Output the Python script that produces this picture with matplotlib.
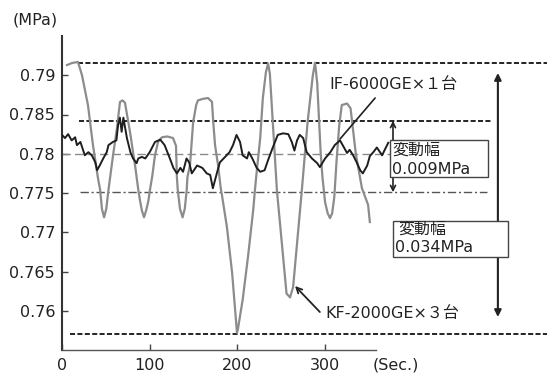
import matplotlib
matplotlib.use("Agg")
import matplotlib.pyplot as plt
from matplotlib.patches import Rectangle

plt.rcParams['font.family'] = ['DejaVu Sans', 'Noto Sans CJK JP']

# ---------------- data ----------------
kf_t = [5.7, 11.4, 18.2, 22.8, 29.6, 35.3, 41, 43.5, 45.5, 48, 50.5, 53, 58.2, 62.7, 66.1, 69, 71.8,
        77.5, 83.2, 87, 89, 91, 93.5, 96, 98.5, 100.3, 103, 106, 109.5, 114, 120, 126.6, 130, 131,
        132, 134.5, 137.5, 140, 142.2, 143, 146, 149.5, 153, 155, 161, 166.5, 171, 172.5, 174.5,
        178, 181, 182, 188, 194, 199.5, 200.5, 206, 212, 218, 220, 222, 226, 229, 232.5, 235, 237,
        245, 256, 260, 263.5, 273.5, 280, 286, 288.5, 291, 295, 297, 300, 303, 305.6, 308, 310.5,
        313, 316, 319, 325, 329, 335, 342, 349, 351]
kf_p = [0.7913, 0.79156, 0.79169, 0.7900, 0.7862, 0.7811, 0.7769, 0.7754, 0.7730, 0.7719, 0.7730,
        0.7754, 0.7798, 0.7833, 0.7866, 0.7868, 0.7865, 0.7828, 0.7786, 0.7754, 0.7740, 0.7728,
        0.7719, 0.7728, 0.7740, 0.7754, 0.7772, 0.7798, 0.7815, 0.7821, 0.7822, 0.7820, 0.7810,
        0.7770, 0.7754, 0.7730, 0.7719, 0.7730, 0.7754, 0.7770, 0.7786, 0.7840, 0.7862, 0.7868,
        0.7870, 0.7871, 0.7866, 0.7840, 0.7811, 0.7785, 0.7756, 0.7750, 0.7707, 0.7648, 0.7572,
        0.7576, 0.7614, 0.7668, 0.7728, 0.7754, 0.7777, 0.7820, 0.7871, 0.7904, 0.7915, 0.7902,
        0.7754, 0.7622, 0.7617, 0.7630, 0.7754, 0.7840, 0.7900, 0.7916, 0.7890, 0.7800, 0.7770,
        0.7738, 0.7724, 0.7718, 0.7724, 0.7745, 0.7790, 0.7835, 0.7862, 0.7864, 0.7858, 0.7800,
        0.7756, 0.7735, 0.7713]

if_t = [0, 3.4, 7, 11, 15, 17, 21, 26, 30, 34, 38, 40, 43, 47, 51, 53, 58, 62, 64, 66, 68, 70, 74,
        78, 81, 85, 87, 91, 95, 100, 106, 112, 117, 123, 127, 131, 135, 138, 142, 145, 148, 154,
        160, 165, 169, 172, 177, 180, 186, 191, 195, 199, 203, 206, 211, 213, 217, 222, 226, 231,
        235, 240, 246, 252, 258, 262, 265, 268, 271, 275, 279, 285, 291, 294, 300, 306, 311, 317,
        320, 325, 328, 332, 336, 340, 343, 348, 351, 355, 359, 365, 368, 372]
if_p = [0.7824, 0.7820, 0.7825, 0.7817, 0.7821, 0.7811, 0.7815, 0.7798, 0.7802, 0.7798, 0.7789,
        0.7779, 0.7785, 0.7794, 0.7802, 0.7811, 0.7815, 0.7817, 0.7837, 0.7846, 0.7828, 0.7846,
        0.7820, 0.7802, 0.7794, 0.7788, 0.7794, 0.7796, 0.7794, 0.7802, 0.7815, 0.7818, 0.7811,
        0.7794, 0.7782, 0.7775, 0.7782, 0.7777, 0.7794, 0.7789, 0.7775, 0.7785, 0.7782, 0.7775,
        0.7773, 0.7756, 0.7777, 0.7789, 0.7796, 0.7802, 0.7811, 0.7824, 0.7815, 0.7798, 0.7794,
        0.7802, 0.7794, 0.7782, 0.7777, 0.7779, 0.7792, 0.7807, 0.7824, 0.7826, 0.7825, 0.7815,
        0.7804, 0.7817, 0.7824, 0.7820, 0.7802, 0.7794, 0.7788, 0.7783, 0.7794, 0.7802, 0.7811,
        0.7817, 0.7811, 0.7801, 0.7805, 0.7798, 0.7789, 0.7779, 0.7775, 0.7785, 0.7797, 0.7802,
        0.7808, 0.7798, 0.7805, 0.7814]

# reference levels: KF max, IF max, mean, IF min, KF min
level_kf_max = 0.7916
level_if_max = 0.7842
level_mean = 0.7800
level_if_min = 0.7751
level_kf_min = 0.7570

x_ticks = [0, 100, 200, 300]
x_ticklabels = ['0', '100', '200', '300']
y_ticks = [0.76, 0.765, 0.77, 0.775, 0.78, 0.785, 0.79]
y_ticklabels = ['0.76', '0.765', '0.77', '0.775', '0.78', '0.785', '0.79']

label_if = 'IF-6000GE×１台'
label_kf = 'KF-2000GE×３台'
box_title = '変動幅'
box_if_value = '0.009MPa'
box_kf_value = '0.034MPa'

# ---------------- figure ----------------
W, H = 547, 373
fig = plt.figure(figsize=(W / 100, H / 100), dpi=100)
ax = fig.add_axes([62 / W, 23 / H, 485 / W, 314 / H])
ax.set_xlim(0, 553)
ax.set_ylim(0.755, 0.795)

# curves
ax.plot(kf_t, kf_p, color='#8c8c8c', lw=1.6, zorder=3, solid_joinstyle='round')
ax.plot(if_t, if_p, color='#1e1e1e', lw=1.4, zorder=4, solid_joinstyle='round')

# reference lines
blk = '#222222'
ax.plot([18.2, 553], [level_kf_max] * 2, color=blk, lw=1.4, dashes=(2.6, 1.2), zorder=2)
ax.plot([19.4, 490], [level_if_max] * 2, color=blk, lw=1.4, dashes=(2.6, 1.2), zorder=2)
ax.plot([0, 374], [level_mean] * 2, color='#8a8a8a', lw=1.0, dashes=(6, 3), zorder=2)
ax.plot([20.5, 484.6], [level_if_min] * 2, color='#555555', lw=1.0, dashes=(6, 2, 1.5, 2), zorder=2)
ax.plot([9.1, 553], [level_kf_min] * 2, color=blk, lw=1.4, dashes=(2.6, 1.2), zorder=2)

# range arrows
ax.annotate('', xy=(377.4, level_if_max), xytext=(377.4, level_if_min),
            arrowprops=dict(arrowstyle='<->', lw=1.2, color=blk, shrinkA=0, shrinkB=0,
                            mutation_scale=9), zorder=5)
ax.annotate('', xy=(497, 0.79029), xytext=(497, 0.7592),
            arrowprops=dict(arrowstyle='<|-|>', lw=1.5, color=blk, shrinkA=0, shrinkB=0,
                            mutation_scale=10), zorder=5)

# boxes
ax.add_patch(Rectangle((374.0, 0.77704), 111.7, 0.78175 - 0.77704, facecolor='white',
                       edgecolor='#444444', lw=1.0, zorder=6))
ax.text(376.3, 0.78048, box_title, fontsize=11.5, va='center', ha='left', zorder=7, color='#222')
ax.text(376.3, 0.77793, box_if_value, fontsize=11.5, va='center', ha='left', zorder=7, color='#222')

ax.add_patch(Rectangle((377.4, 0.76685), 131.2, 0.77143 - 0.76685, facecolor='white',
                       edgecolor='#444444', lw=1.0, zorder=6))
ax.text(384.0, 0.77041, box_title, fontsize=11.5, va='center', ha='left', zorder=7, color='#222')
ax.text(380.0, 0.76812, box_kf_value, fontsize=11.5, va='center', ha='left', zorder=7, color='#222')

# series labels
ax.text(304.4, 0.78876, label_if, fontsize=11.5, va='center', ha='left', color='#222', zorder=7)
ax.annotate('', xy=(317, 0.78188), xytext=(357, 0.7871),
            arrowprops=dict(arrowstyle='-', lw=1.2, color=blk, shrinkA=0, shrinkB=0), zorder=7)
ax.text(300.0, 0.75959, label_kf, fontsize=11.5, va='center', ha='left', color='#222', zorder=7)
ax.annotate('', xy=(265.7, 0.76315), xytext=(294, 0.75984),
            arrowprops=dict(arrowstyle='->', lw=1.3, color=blk, shrinkA=0, shrinkB=0,
                            mutation_scale=10), zorder=7)

# axes styling
for s in ['top', 'right']:
    ax.spines[s].set_visible(False)
ax.spines['left'].set_color('#333333')
ax.spines['left'].set_linewidth(1.5)
ax.spines['bottom'].set_color('#555555')
ax.spines['bottom'].set_linewidth(1.0)
ax.spines['bottom'].set_bounds(0, 358)

ax.set_xticks(x_ticks)
ax.set_xticklabels(x_ticklabels)
ax.set_yticks(y_ticks)
ax.set_yticklabels(y_ticklabels)
ax.tick_params(axis='both', direction='in', length=4, width=1, colors='#444444',
               labelsize=11.5, labelcolor='#222222')
ax.tick_params(axis='y', pad=5)
ax.tick_params(axis='x', pad=6)
ax.patch.set_alpha(0)

fig.text(13 / W, 1 - 20 / H, '(MPa)', fontsize=11.5, va='center', ha='left', color='#222')
fig.text(373 / W, 1 - 365 / H, '(Sec.)', fontsize=11.5, va='center', ha='left', color='#222')

fig.savefig('out.png', dpi=100, facecolor='white')
